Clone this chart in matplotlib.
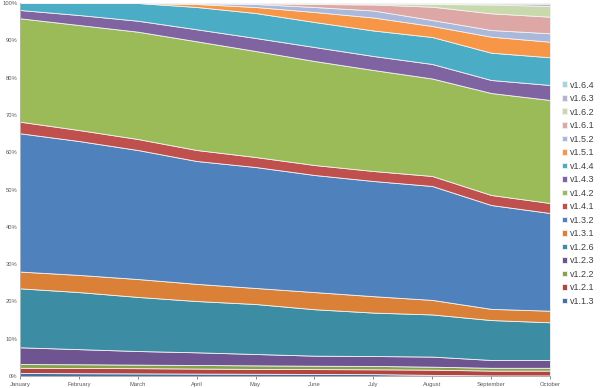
import matplotlib
matplotlib.use("Agg")
import matplotlib.pyplot as plt
import numpy as np

plt.rcParams['font.family'] = ['Liberation Sans', 'DejaVu Sans']

months = ['January', 'February', 'March', 'April', 'May', 'June',
          'July', 'August', 'September', 'October']

versions = ['v1.1.3', 'v1.2.1', 'v1.2.2', 'v1.2.3', 'v1.2.6', 'v1.3.1',
            'v1.3.2', 'v1.4.1', 'v1.4.2', 'v1.4.3', 'v1.4.4', 'v1.5.1',
            'v1.5.2', 'v1.6.1', 'v1.6.2', 'v1.6.3', 'v1.6.4']

# share of installs per version (%), one list per version, Jan..Oct
v113 = [0.8, 0.75, 0.7, 0.65, 0.6, 0.55, 0.5, 0.3, 0.15, 0.15]
v121 = [1.4, 1.4, 1.4, 1.35, 1.3, 1.3, 1.3, 1.4, 1.3, 1.3]
v122 = [1.0, 1.0, 0.95, 0.95, 0.95, 0.9, 0.9, 0.8, 0.75, 0.75]
v123 = [4.5, 4.05, 3.65, 3.4, 3.05, 2.7, 2.66, 2.7, 2.1, 2.1]
v126 = [15.8, 15.3, 14.5, 13.75, 13.4, 12.45, 11.64, 11.3, 10.7, 10.1]
v131 = [4.5, 4.6, 4.8, 4.6, 4.3, 4.6, 4.4, 3.9, 3.0, 3.1]
v132 = [37.07, 35.9, 34.59, 32.94, 32.43, 31.39, 30.88, 30.54, 27.84, 26.2]
v141 = [3.11, 2.95, 2.95, 2.95, 2.68, 2.68, 2.68, 2.68, 2.69, 2.68]
v142 = [27.72, 28.15, 28.77, 29.14, 28.42, 27.88, 27.08, 26.14, 27.34, 27.62]
v143 = [2.22, 2.68, 2.94, 3.22, 3.49, 3.75, 3.75, 3.89, 3.49, 4.02]
v144 = [1.88, 3.22, 4.75, 5.98, 6.7, 6.71, 6.84, 7.23, 7.32, 7.42]
v151 = [0, 0, 0, 0.8, 1.61, 2.68, 3.48, 2.95, 4.29, 4.18]
v152 = [0, 0, 0, 0.19, 0.8, 1.34, 1.88, 1.61, 1.79, 2.26]
v161 = [0, 0, 0, 0.08, 0.19, 0.8, 1.61, 3.57, 4.48, 4.45]
v162 = [0, 0, 0, 0, 0.08, 0.22, 0.27, 0.72, 2.36, 2.87]
v163 = [0, 0, 0, 0, 0, 0.05, 0.08, 0.19, 0.27, 0.6]
v164 = [0, 0, 0, 0, 0, 0, 0.05, 0.08, 0.13, 0.2]

colors = ['#4470A8', '#B5433F', '#86A349', '#6E5490', '#3C8DA3', '#DB8137',
          '#4F81BD', '#C0504D', '#9BBB59', '#8064A2', '#4BACC6', '#F79646',
          '#A9B8DB', '#DDA7A6', '#C8D9AB', '#B8B3C8', '#A5D4E2']

data = np.array([v113, v121, v122, v123, v126, v131, v132, v141, v142,
                 v143, v144, v151, v152, v161, v162, v163, v164])
data = data / data.sum(axis=0) * 100

fig = plt.figure(figsize=(6, 3.88), dpi=100)
ax = fig.add_axes([20 / 600, 1 - 376 / 388, 530 / 600, 373 / 388])

x = np.arange(len(months))
polys = ax.stackplot(x, data, colors=colors, labels=versions,
                     edgecolor='#F2F2F2', linewidth=0.6)

ax.set_xlim(0, len(months) - 1)
ax.set_ylim(0, 100)
ax.set_xticks(x)
ax.set_xticklabels(months)
ax.set_yticks(np.arange(0, 101, 10))
ax.set_yticklabels([f'{v}%' for v in range(0, 101, 10)])
ax.tick_params(axis='both', labelsize=4.2, colors='#595959', length=2,
               width=0.5, pad=2)
ax.tick_params(axis='y', length=0)
for s in ['top', 'right']:
    ax.spines[s].set_visible(False)
for s in ['left', 'bottom']:
    ax.spines[s].set_color('#A6A6A6')
    ax.spines[s].set_linewidth(0.6)

handles, labels = ax.get_legend_handles_labels()
leg = fig.legend(handles[::-1], labels[::-1], loc='upper left',
                 bbox_to_anchor=(557 / 600, 1 - 76 / 388), frameon=False,
                 fontsize=6.5, handlelength=0.6, handleheight=0.6,
                 handletextpad=0.3, labelspacing=0.5, borderpad=0)
for t in leg.get_texts():
    t.set_color('#404040')

fig.savefig('out.png', dpi=100)
